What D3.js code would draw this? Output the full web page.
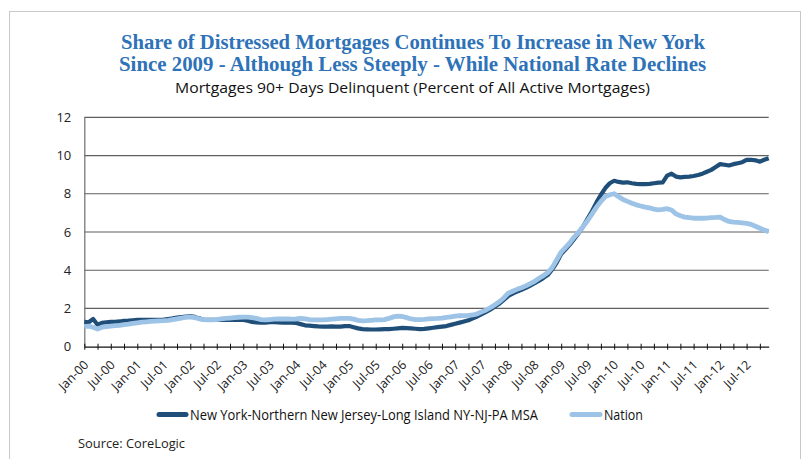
<!DOCTYPE html>
<html>
<head>
<meta charset="utf-8">
<script src="https://cdn.jsdelivr.net/npm/d3@7"></script>
<style>
  body { margin: 0; background: #fff; }
  svg { display: block; }
</style>
</head>
<body>
<svg width="807" height="459"></svg>
<script>
// monthly share of mortgages 90+ days delinquent, Jan-00 .. Dec-12

var nyValues = [
  1.30, 1.28, 1.45, 1.15, 1.25, 1.28, 1.30, 1.30, 1.32, 1.35, 1.36, 1.38, // 2000
  1.40, 1.41, 1.40, 1.40, 1.40, 1.41, 1.42, 1.45, 1.48, 1.52, 1.55, 1.58, // 2001
  1.60, 1.56, 1.48, 1.42, 1.40, 1.40, 1.40, 1.40, 1.40, 1.40, 1.41, 1.40, // 2002
  1.40, 1.36, 1.30, 1.27, 1.26, 1.26, 1.28, 1.28, 1.27, 1.26, 1.27, 1.26, // 2003
  1.24, 1.18, 1.12, 1.10, 1.08, 1.06, 1.05, 1.05, 1.06, 1.05, 1.05, 1.08, // 2004
  1.08, 1.02, 0.96, 0.92, 0.91, 0.90, 0.90, 0.91, 0.92, 0.92, 0.94, 0.96, // 2005
  0.98, 0.97, 0.96, 0.94, 0.92, 0.93, 0.96, 0.99, 1.02, 1.05, 1.08, 1.14, // 2006
  1.20, 1.26, 1.32, 1.38, 1.48, 1.58, 1.70, 1.82, 1.95, 2.10, 2.25, 2.45, // 2007
  2.65, 2.78, 2.88, 2.98, 3.08, 3.20, 3.32, 3.45, 3.60, 3.76, 4.05, 4.40, // 2008
  4.85, 5.10, 5.35, 5.65, 5.95, 6.30, 6.70, 7.10, 7.55, 7.95, 8.30, 8.55, // 2009
  8.68, 8.62, 8.58, 8.60, 8.55, 8.52, 8.50, 8.50, 8.52, 8.55, 8.58, 8.60, // 2010
  8.95, 9.05, 8.90, 8.86, 8.88, 8.90, 8.93, 8.98, 9.05, 9.15, 9.25, 9.40, // 2011
  9.55, 9.52, 9.48, 9.55, 9.60, 9.65, 9.77, 9.78, 9.75, 9.68, 9.78, 9.86  // 2012
];

var nationValues = [
  1.05, 1.08, 1.02, 0.92, 1.02, 1.05, 1.08, 1.10, 1.12, 1.15, 1.18, 1.22,
  1.25, 1.28, 1.30, 1.32, 1.34, 1.35, 1.36, 1.38, 1.42, 1.46, 1.50, 1.54,
  1.56, 1.52, 1.46, 1.42, 1.40, 1.40, 1.42, 1.45, 1.48, 1.50, 1.52, 1.54,
  1.55, 1.55, 1.52, 1.48, 1.42, 1.40, 1.42, 1.44, 1.45, 1.46, 1.45, 1.44,
  1.45, 1.48, 1.46, 1.42, 1.40, 1.40, 1.40, 1.42, 1.44, 1.46, 1.48, 1.48,
  1.48, 1.44, 1.38, 1.35, 1.36, 1.38, 1.40, 1.40, 1.42, 1.48, 1.56, 1.60,
  1.58, 1.52, 1.45, 1.42, 1.42, 1.43, 1.45, 1.47, 1.48, 1.50, 1.53, 1.56,
  1.60, 1.62, 1.63, 1.64, 1.66, 1.72, 1.82, 1.92, 2.05, 2.20, 2.35, 2.55,
  2.80, 2.90, 3.00, 3.08, 3.18, 3.30, 3.42, 3.58, 3.72, 3.88, 4.15, 4.55,
  4.95, 5.20, 5.45, 5.75, 6.00, 6.30, 6.60, 6.95, 7.30, 7.60, 7.85, 7.95,
  8.00, 7.85, 7.70, 7.60, 7.50, 7.42, 7.36, 7.30, 7.26, 7.20, 7.16, 7.18,
  7.22, 7.15, 6.95, 6.85, 6.78, 6.75, 6.72, 6.72, 6.72, 6.73, 6.75, 6.76,
  6.78, 6.65, 6.55, 6.52, 6.50, 6.48, 6.45, 6.40, 6.30, 6.20, 6.10, 6.02
];

var tickLabels = [
  'Jan-00', 'Jul-00', 'Jan-01', 'Jul-01', 'Jan-02', 'Jul-02', 'Jan-03', 'Jul-03',
  'Jan-04', 'Jul-04', 'Jan-05', 'Jul-05', 'Jan-06', 'Jul-06', 'Jan-07', 'Jul-07',
  'Jan-08', 'Jul-08', 'Jan-09', 'Jul-09', 'Jan-10', 'Jul-10', 'Jan-11', 'Jul-11',
  'Jan-12', 'Jul-12'
];

var yTicks = [0, 2, 4, 6, 8, 10, 12];
var seriesNames = ['New York-Northern New Jersey-Long Island NY-NJ-PA MSA', 'Nation'];
var seriesColors = ['#1f4e79', '#9dc3e6'];

var svg = d3.select('svg');
var font = "'Open Sans', 'DejaVu Sans', sans-serif";

// outer frame
svg.append('rect')
  .attr('x', 9.5).attr('y', 11.5)
  .attr('width', 791).attr('height', 470)
  .attr('fill', 'none')
  .attr('stroke', '#c9c9c9');

// titles
var title = svg.append('g')
  .attr('font-family', "'Liberation Serif', 'DejaVu Serif', serif")
  .attr('font-weight', 'bold')
  .attr('font-size', 20)
  .attr('fill', '#2e72b8')
  .attr('text-anchor', 'middle');
title.append('text').attr('x', 413).attr('y', 48.5)
  .attr('textLength', 584).attr('lengthAdjust', 'spacingAndGlyphs')
  .text('Share of Distressed Mortgages Continues To Increase in New York');
title.append('text').attr('x', 412.5).attr('y', 70.5)
  .attr('textLength', 587).attr('lengthAdjust', 'spacingAndGlyphs')
  .text('Since 2009 - Although Less Steeply - While National Rate Declines');

svg.append('text')
  .attr('x', 412.5).attr('y', 93)
  .attr('text-anchor', 'middle')
  .attr('font-family', font).attr('font-size', 15)
  .attr('fill', '#111')
  .attr('textLength', 475).attr('lengthAdjust', 'spacingAndGlyphs')
  .text('Mortgages 90+ Days Delinquent (Percent of All Active Mortgages)');

// scales
var months = d3.range(nyValues.length);
var xScale = d3.scalePoint().domain(months).range([84.3, 768.7]);
var yScale = d3.scaleLinear().domain([0, 12]).range([346.7, 117.3]);

// gridlines
svg.append('g')
  .selectAll('line')
  .data(yTicks.filter(function(d){ return d > 0; }))
  .enter()
  .append('line')
  .attr('x1', 84.3).attr('x2', 768.7)
  .attr('y1', function(d){ return yScale(d); })
  .attr('y2', function(d){ return yScale(d); })
  .attr('stroke', '#5f5f5f')
  .attr('stroke-width', 1.2);

// y axis
var yAxis = d3.axisLeft(yScale).tickValues(yTicks).tickSize(0).tickPadding(13);
var gy = svg.append('g')
  .attr('transform', 'translate(84.3,0)')
  .call(yAxis);
gy.select('.domain').attr('stroke', '#6f6f6f').attr('stroke-width', 1.2);
gy.selectAll('text')
  .attr('font-family', font).attr('font-size', 13).attr('fill', '#222');

// x axis, tick every quarter, label every half year
var xAxis = d3.axisBottom(xScale)
  .tickValues(months.filter(function(m){ return m % 3 === 0; }))
  .tickSizeOuter(0)
  .tickFormat(function(m){ return m % 6 === 0 ? tickLabels[m / 6] : ''; });
var gx = svg.append('g')
  .attr('transform', 'translate(0,346.7)')
  .call(xAxis);
gx.select('.domain').attr('stroke', '#111').attr('stroke-width', 1.2);
gx.selectAll('.tick line')
  .attr('y1', -3).attr('y2', 3)
  .attr('stroke', '#111');
gx.selectAll('text')
  .attr('x', 0).attr('y', 0).attr('dy', 0)
  .attr('text-anchor', 'end')
  .attr('transform', 'translate(4.5,19) rotate(-45)')
  .attr('font-family', font).attr('font-size', 12.5).attr('fill', '#222');

// lines
var line = d3.line()
  .x(function(d, i){ return xScale(i); })
  .y(function(d){ return yScale(d); });

svg.append('path')
  .datum(nyValues)
  .attr('d', line)
  .attr('fill', 'none')
  .attr('stroke', seriesColors[0])
  .attr('stroke-width', 4.2)
  .attr('stroke-linejoin', 'round');

svg.append('path')
  .datum(nationValues)
  .attr('d', line)
  .attr('fill', 'none')
  .attr('stroke', seriesColors[1])
  .attr('stroke-width', 4.8)
  .attr('stroke-linejoin', 'round');

// legend
var legend = svg.append('g');
legend.append('line')
  .attr('x1', 159).attr('x2', 186).attr('y1', 414.5).attr('y2', 414.5)
  .attr('stroke', seriesColors[0]).attr('stroke-width', 5).attr('stroke-linecap', 'round');
legend.append('text')
  .attr('x', 190).attr('y', 420)
  .attr('font-family', font).attr('font-size', 14).attr('fill', '#111')
  .attr('textLength', 348).attr('lengthAdjust', 'spacingAndGlyphs')
  .text(seriesNames[0]);
legend.append('line')
  .attr('x1', 572).attr('x2', 600).attr('y1', 414.5).attr('y2', 414.5)
  .attr('stroke', seriesColors[1]).attr('stroke-width', 5).attr('stroke-linecap', 'round');
legend.append('text')
  .attr('x', 604).attr('y', 420)
  .attr('font-family', font).attr('font-size', 14).attr('fill', '#111')
  .attr('textLength', 39).attr('lengthAdjust', 'spacingAndGlyphs')
  .text(seriesNames[1]);

svg.append('text')
  .attr('x', 78).attr('y', 447.5)
  .attr('font-family', font).attr('font-size', 13.5).attr('fill', '#222')
  .attr('textLength', 107).attr('lengthAdjust', 'spacingAndGlyphs')
  .text('Source: CoreLogic');
</script>
</body>
</html>
